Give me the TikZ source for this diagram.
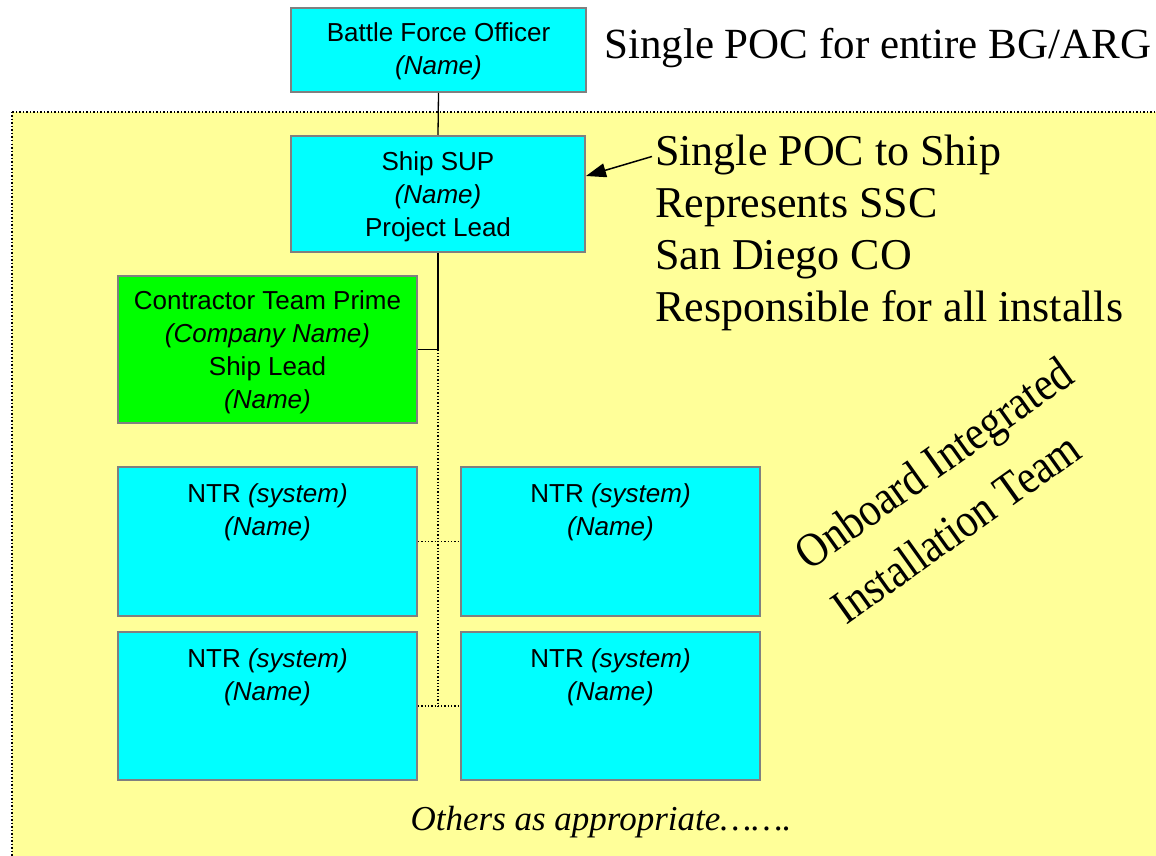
\documentclass[tikz,border=0pt]{standalone}
\usepackage{fontspec}
\setmainfont{Liberation Serif}
\setsansfont{Liberation Sans}
\usetikzlibrary{arrows.meta,calc}
\definecolor{boxcyan}{HTML}{00FFFF}
\definecolor{boxgreen}{HTML}{00FF00}
\definecolor{teamyellow}{HTML}{FFFF99}
\definecolor{boxgray}{HTML}{808080}
\begin{document}
\begin{tikzpicture}[x=1pt,y=-1pt,
  orgbox/.style={draw=boxgray, line width=2pt, fill=boxcyan, inner sep=0pt},
  primebox/.style={orgbox, fill=boxgreen},
  boxtext/.style={inner sep=0pt, align=center, font=\sffamily\fontsize{26}{33}\selectfont},
  note/.style={inner sep=0pt, anchor=base west, font=\fontsize{44}{52}\selectfont},
  conn/.style={draw=black, line width=1.3pt},
  dotconn/.style={draw=black, line width=1.3pt, dotted},
  teamtext/.style={inner sep=0pt, anchor=base, rotate=35.5, font=\fontsize{48}{56}\selectfont},
  others/.style={inner sep=0pt, anchor=base, font=\itshape\fontsize{35}{40}\selectfont}]
\useasboundingbox (0,0) rectangle (1156,856);
\clip (0,0) rectangle (1156,856);
\fill[white] (0,0) rectangle (1156,856);
% team area
\fill[teamyellow] (12,112) rectangle (1175,875);
\draw[black, line width=1.5pt, dotted] (12,112) rectangle (1175,875);

% boxes
\node[orgbox, minimum width=295pt, minimum height=84pt] (bfo) at (438.5,50) {};
\node[orgbox, minimum width=294pt, minimum height=116pt] (sup) at (438,194) {};
\node[primebox, minimum width=299pt, minimum height=147pt] (prime) at (267.5,349.5) {};
\node[orgbox, minimum width=299pt, minimum height=149pt] (ntr1) at (267.5,541.5) {};
\node[orgbox, minimum width=299pt, minimum height=149pt] (ntr2) at (610.5,541.5) {};
\node[orgbox, minimum width=299pt, minimum height=148pt] (ntr3) at (267.5,706) {};
\node[orgbox, minimum width=299pt, minimum height=148pt] (ntr4) at (610.5,706) {};

% box texts
\node[boxtext] (bfot) at ($(bfo.center)+(0,1)$) {Battle Force Officer\\\textit{(Name)}};
\node[boxtext] (supt) at ($(sup.center)+(0,3)$) {Ship SUP\\\textit{(Name)}\\Project Lead};
\node[boxtext] (primet) at ($(prime.center)+(0,3)$)
  {Contractor Team Prime\\\textit{(Company Name)}\\Ship Lead\\\textit{(Name)}};
\node[boxtext] (t1) at ($(ntr1.north)+(0,46)$) {NTR \textit{(system)}\\\textit{(Name)}};
\node[boxtext] (t2) at ($(ntr2.north)+(0,46)$) {NTR \textit{(system)}\\\textit{(Name)}};
\node[boxtext] (t3) at ($(ntr3.north)+(0,46)$) {NTR \textit{(system)}\\\textit{(Name)}};
\node[boxtext] (t4) at ($(ntr4.north)+(0,46)$) {NTR \textit{(system)}\\\textit{(Name)}};

% connectors
\coordinate (j1) at (sup.south |- prime.east);
\coordinate (j3) at (sup.south |- ntr3.east);
\draw[conn] (bfo.south) -- (sup.north);
\draw[conn] (sup.south) -- (j1) -- (prime.east);
\draw[dotconn] (j1) -- (j3);
\draw[dotconn] (ntr1.east) -- (ntr2.west);
\draw[dotconn] (ntr3.east) -- (ntr4.west);

% notes
\node[note, font=\fontsize{43}{52}\selectfont] (n0) at (604,59) {Single POC for entire BG/ARG};
\node[note] (n1) at (655,165) {Single POC to Ship};
\node[note] (n2) at (655,217) {Represents SSC};
\node[note] (n3) at (655,269) {San Diego CO};
\node[note] (n4) at (655,321) {Responsible for all installs};
\draw[conn, line width=1.5pt, -{Triangle[length=20pt,width=14pt]}] ($(n1.west)+(-3,2)$) -- ($(sup.east)+(0,-18)$);

\node[teamtext] (team1) at (943,476) {\scalebox{0.875}[1]{Onboard Integrated}};
\node[teamtext] (team2) at (965,541) {\scalebox{0.875}[1]{Installation Team}};
\node[others] (oth) at (601,830) {Others as appropriate…….};
\end{tikzpicture}
\end{document}
